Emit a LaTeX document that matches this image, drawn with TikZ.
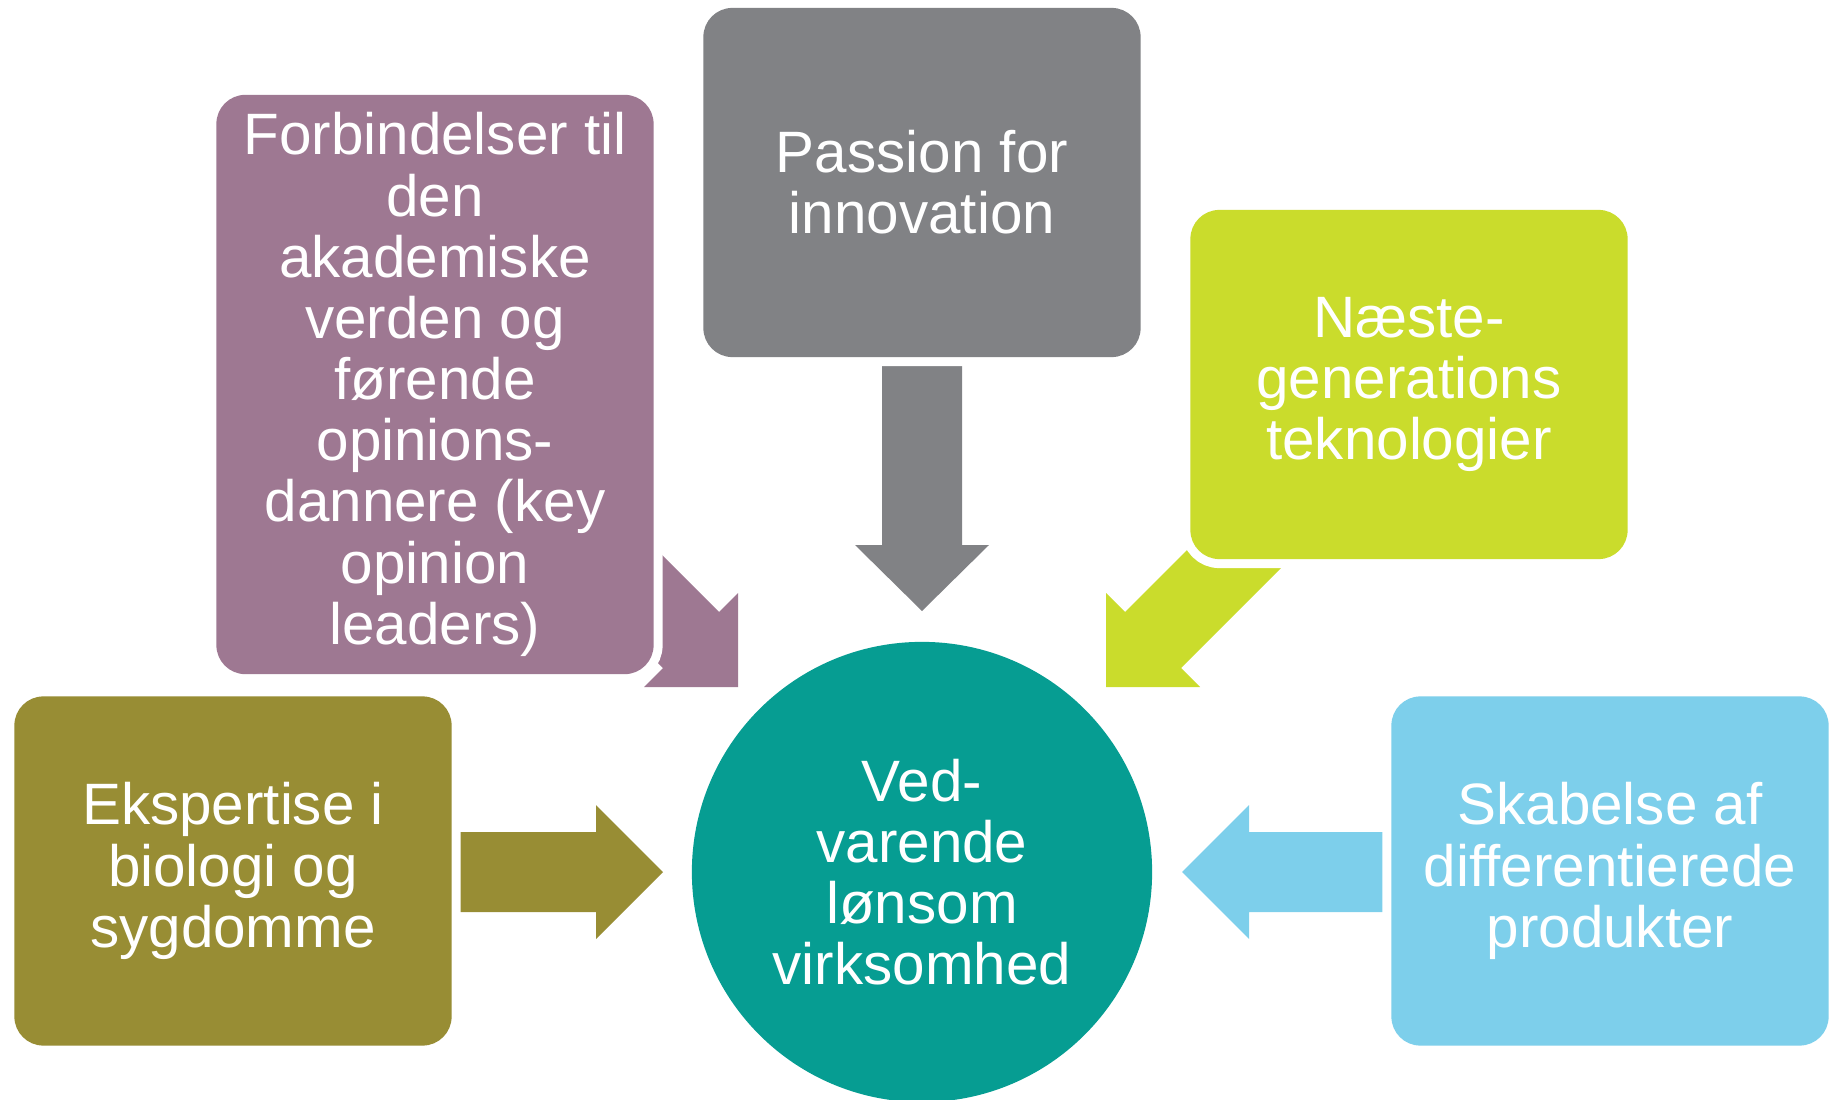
\documentclass[tikz,border=0pt]{standalone}
\usepackage{fontspec}
\setmainfont{Liberation Sans}

\definecolor{stone}{HTML}{818285}
\definecolor{mauve}{HTML}{9E7892}
\definecolor{lime}{HTML}{CADC2C}
\definecolor{moss}{HTML}{988D34}
\definecolor{sky}{HTML}{7DCFEB}
\definecolor{sea}{HTML}{069D92}

\tikzset{
  box/.style={rectangle, rounded corners=0.29cm, minimum width=4.37cm,
    minimum height=3.49cm, inner sep=0pt, align=center, text=white,
    font=\fontsize{16.6}{17.4}\selectfont,
    preaction={draw=white, line width=0.18cm}},
  hub/.style={circle, minimum size=4.6cm, inner sep=0pt, align=center,
    text=white, font=\fontsize{16.6}{17.4}\selectfont}
}

\begin{document}
\begin{tikzpicture}[x=0.01cm,y=-0.01cm]
            \useasboundingbox (0,0) rectangle (1835,1100);
            \fill[stone] (882,360) -- (962,360) -- (962,545) -- (989,545) -- (922,611) -- (855,545) -- (882,545) -- cycle;
            \fill[moss] (440,832) -- (596,832) -- (596,805) -- (663,872) -- (596,939) -- (596,912) -- (440,912) -- cycle;
            \fill[sky] (1400,832) -- (1249,832) -- (1249,805) -- (1182,872) -- (1249,939) -- (1249,912) -- (1400,912) -- cycle;
            \fill[mauve] (600,493) -- (719,612) -- (738,593) -- (738,687) -- (644,687) -- (663,668) -- (560,565) -- cycle;
            \fill[lime] (1260,477) -- (1125,612) -- (1106,593) -- (1106,687) -- (1200,687) -- (1181,668) -- (1330,519) -- cycle;
            \node[box, fill=stone] (passion) at (922,182.5) {Passion for\\innovation};
            \node[box, fill=mauve, minimum height=5.79cm] (forbind) at (435,384.5) {Forbindelser til\\den\\akademiske\\verden og\\førende\\opinions-\\dannere (key\\opinion\\leaders)};
            \node[box, fill=lime] (naeste) at (1409,384.5) {Næste-\\generations\\teknologier};
            \node[box, fill=moss] (ekspert) at (233,871) {Ekspertise i\\biologi og\\sygdomme};
            \node[box, fill=sky] (skabelse) at (1610,871) {Skabelse af\\differentierede\\produkter};
            \node[hub, fill=sea] (core) at (922,872) {Ved-\\varende\\lønsom\\virksomhed};
        \end{tikzpicture}
\end{document}
